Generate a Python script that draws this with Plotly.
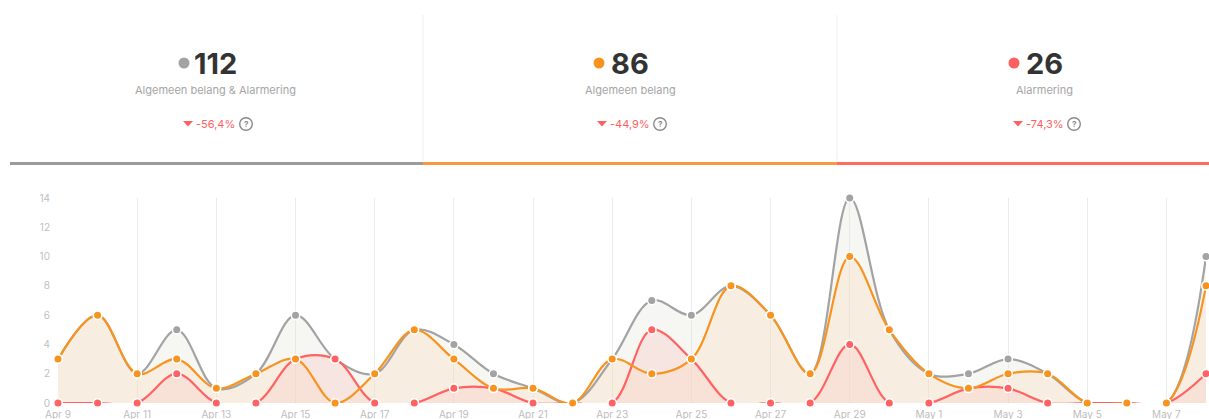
import plotly.graph_objects as go
import pandas as pd

W, H = 1209, 419

dates = pd.date_range("2024-04-09", "2024-05-08", freq="D")
total = [3, 6, 2, 5, 1, 2, 6, 3, 2, 5, 4, 2, 1, 0, 3, 7, 6, 8, 6, 2, 14, 5, 2, 2, 3, 2, 0, 0, 0, 10]
algemeen = [3, 6, 2, 3, 1, 2, 3, 0, 2, 5, 3, 1, 1, 0, 3, 2, 3, 8, 6, 2, 10, 5, 2, 1, 2, 2, 0, 0, 0, 8]
alarm = [0, 0, 0, 2, 0, 0, 3, 3, 0, 0, 1, 1, 0, 0, 0, 5, 3, 0, 0, 0, 4, 0, 0, 1, 1, 0, 0, 0, 0, 2]

kpi_values = ["112", "86", "26"]
kpi_labels = ["Algemeen belang & Alarmering", "Algemeen belang", "Alarmering"]
kpi_changes = ["-56,4%", "-44,9%", "-74,3%"]
kpi_colors = ["#a3a3a3", "#f7931e", "#ff5f5f"]
bar_colors = ["#9b9b9b", "#f89a3c", "#ff6b63"]

GREY, ORANGE, RED = "#a3a3a3", "#f7931e", "#ff6262"

def px(x):
    return x / W

def py(y):
    return 1 - y / H

fig = go.Figure()

series = [
    (total, GREY, "rgba(225,225,215,0.30)", "Algemeen belang & Alarmering"),
    (alarm, RED, "rgba(250,190,190,0.30)", "Alarmering"),
    (algemeen, ORANGE, "rgba(252,215,185,0.30)", "Algemeen belang"),
]

# fills first
for y, color, fill, name in series:
    fig.add_trace(go.Scatter(
        x=dates, y=y, name=name, mode="lines",
        line=dict(color="rgba(0,0,0,0)", width=0, shape="spline", smoothing=1.0),
        fill="tozeroy", fillcolor=fill, hoverinfo="skip",
    ))
# lines
for y, color, fill, name in series:
    fig.add_trace(go.Scatter(
        x=dates, y=y, name=name, mode="lines",
        line=dict(color=color, width=2.2, shape="spline", smoothing=1.0),
        hoverinfo="skip", cliponaxis=False,
    ))
# markers
for y, color, fill, name in series:
    fig.add_trace(go.Scatter(
        x=dates, y=y, name=name, mode="markers",
        marker=dict(size=8.5, color=color, line=dict(color="white", width=1.5)),
        cliponaxis=False, hoverinfo="x+y",
    ))

shapes = []
annotations = []

centers = [215, 630, 1044]
dot_x = [184, 599, 1014]
tri_x = [188, 602, 1018]
pct_x = [215, 630, 1045]
q_x = [246, 660, 1074]
bars = [(10, 423), (423, 837), (837, 1209)]

for i in range(3):
    annotations.append(dict(
        x=px(centers[i]), y=py(63), xref="paper", yref="paper",
        text="<b>" + kpi_values[i] + "</b>", showarrow=False,
        font=dict(family="Inter, Lato, sans-serif", size=29, color="#333333"),
        xanchor="center", yanchor="middle"))
    r = 5.5
    shapes.append(dict(type="circle", xref="paper", yref="paper",
                       x0=px(dot_x[i] - r), x1=px(dot_x[i] + r),
                       y0=py(63 + r), y1=py(63 - r),
                       fillcolor=kpi_colors[i], line=dict(width=0)))
    annotations.append(dict(
        x=px(centers[i]), y=py(90), xref="paper", yref="paper",
        text=kpi_labels[i], showarrow=False,
        font=dict(family="Inter, Lato, sans-serif", size=11, color="#a5a5a5"),
        xanchor="center", yanchor="middle"))
    tx, ty = tri_x[i], 121
    shapes.append(dict(type="path", xref="paper", yref="paper",
                       path=f"M {px(tx-5)} {py(ty)} L {px(tx+5)} {py(ty)} L {px(tx)} {py(ty+5.5)} Z",
                       fillcolor="#ff5f5f", line=dict(width=0)))
    annotations.append(dict(
        x=px(pct_x[i]), y=py(124), xref="paper", yref="paper",
        text=kpi_changes[i], showarrow=False,
        font=dict(family="Inter, Lato, sans-serif", size=11, color="#ff5f5f"),
        xanchor="center", yanchor="middle"))
    qr = 6.3
    shapes.append(dict(type="circle", xref="paper", yref="paper",
                       x0=px(q_x[i] - qr), x1=px(q_x[i] + qr),
                       y0=py(124 + qr), y1=py(124 - qr),
                       fillcolor="rgba(0,0,0,0)", line=dict(width=1.4, color="#8a8a8a")))
    annotations.append(dict(
        x=px(q_x[i]), y=py(124), xref="paper", yref="paper",
        text="<b>?</b>", showarrow=False,
        font=dict(family="Inter, Lato, sans-serif", size=8, color="#8a8a8a"),
        xanchor="center", yanchor="middle"))
    shapes.append(dict(type="rect", xref="paper", yref="paper",
                       x0=px(bars[i][0]), x1=px(bars[i][1]),
                       y0=py(165), y1=py(162),
                       fillcolor=bar_colors[i], line=dict(width=0)))

for vx in [423, 837]:
    shapes.append(dict(type="line", xref="paper", yref="paper",
                       x0=px(vx), x1=px(vx), y0=py(15), y1=py(161),
                       line=dict(color="#efefef", width=1)))

fig.update_layout(
    width=W, height=H,
    margin=dict(l=0, r=0, t=0, b=0),
    paper_bgcolor="white", plot_bgcolor="white",
    showlegend=False,
    shapes=shapes, annotations=annotations,
    font=dict(family="Inter, Lato, sans-serif"),
    xaxis=dict(
        domain=[px(58), px(1206)],
        range=[dates[0], dates[-1]],
        type="date", dtick=2 * 86400000, tick0=dates[0],
        tickformat="%b %-d",
        showgrid=True, gridcolor="#ebebeb", gridwidth=1,
        zeroline=False, showline=False,
        ticks="outside", ticklen=2, tickcolor="rgba(0,0,0,0)",
        tickfont=dict(size=10, color="#bdbdbd"),
        automargin=False, fixedrange=True,
    ),
    yaxis=dict(
        domain=[1 - 403 / H, 1 - 198 / H],
        range=[0, 14], dtick=2,
        showgrid=False, zeroline=False, showline=False,
        ticks="outside", ticklen=5, tickcolor="rgba(0,0,0,0)",
        tickfont=dict(size=10, color="#c0c0c0"),
        automargin=False, fixedrange=True,
    ),
)

fig.write_html(
    "out.html",
    config={"displayModeBar": False},
    post_script="document.body.style.margin='0';document.body.style.overflow='hidden';",
)
